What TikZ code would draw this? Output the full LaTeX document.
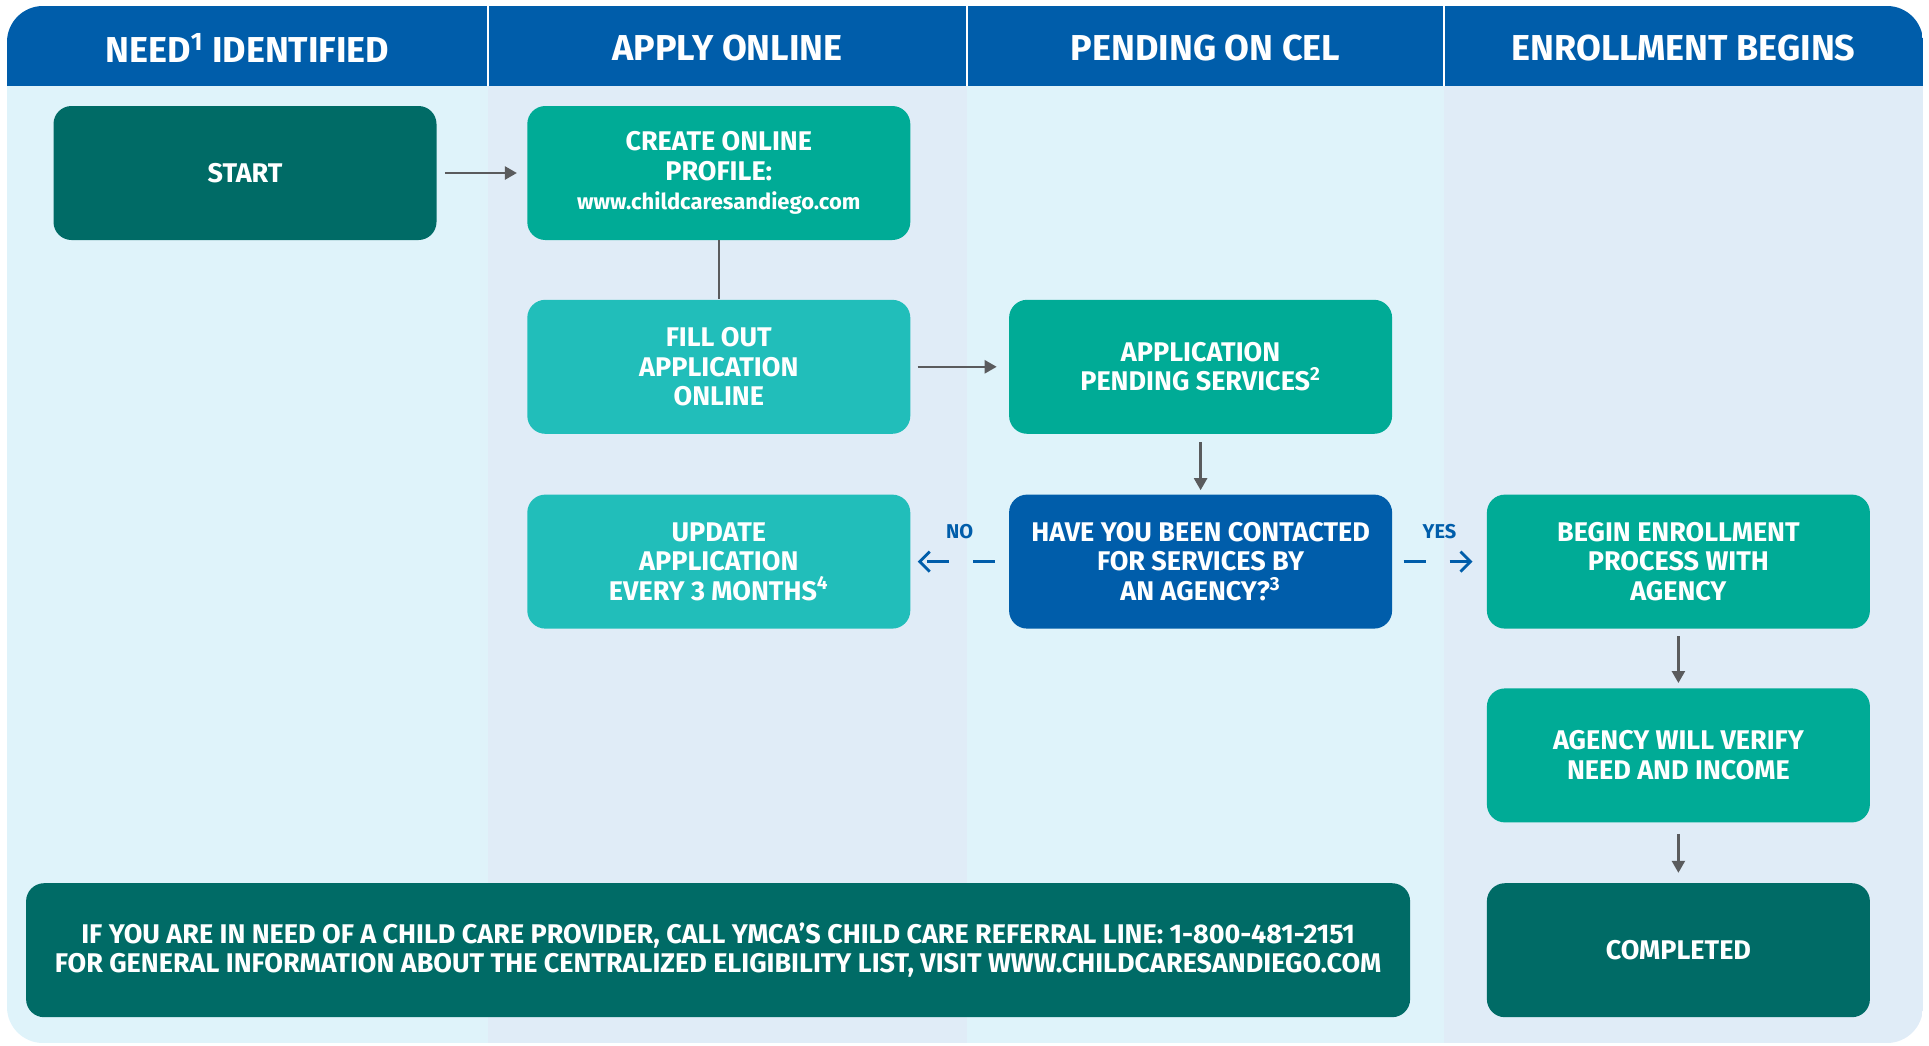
\documentclass[tikz,border=0pt]{standalone}
\usepackage{fontspec}
\setmainfont{Fira Sans}
\usetikzlibrary{arrows.meta,positioning}

\definecolor{hdrblue}{HTML}{005DAA}
\definecolor{dkteal}{HTML}{006B66}
\definecolor{midteal}{HTML}{00AB96}
\definecolor{ltteal}{HTML}{21BEBA}
\definecolor{bgcyan}{HTML}{DFF3FA}
\definecolor{bgblue}{HTML}{E0ECF7}
\definecolor{arrgray}{HTML}{5A5B5D}

\begin{document}
\begin{tikzpicture}[x=0.5pt, y=-0.5pt,
  unit/.style={rectangle, rounded corners=9pt, minimum height=67pt, minimum width=191.5pt, inner sep=0pt, align=center, text=white, font=\bfseries\fontsize{13.5}{14.8}\selectfont},
  head/.style={text=white, font=\bfseries\fontsize{18}{20}\selectfont},
  answer/.style={text=hdrblue, font=\bfseries\fontsize{10}{12}\selectfont},
  flow/.style={draw=arrgray, line width=1.2pt, -{Triangle[length=6pt, width=6.5pt]}},
  link/.style={draw=arrgray, line width=1.2pt},
  choice/.style={draw=hdrblue, line width=1.4pt, dash pattern=on 11pt off 12pt, -{Straight Barb[length=5pt, width=10pt]}}]

%Background
\useasboundingbox (0,0) rectangle (1929,1045);
\begin{scope}
  \clip[rounded corners=18pt] (7,6) rectangle (1923,1043);
  \fill[bgcyan] (7,6) rectangle (488,1043);
  \fill[bgblue] (488,6) rectangle (967,1043);
  \fill[bgcyan] (967,6) rectangle (1444,1043);
  \fill[bgblue] (1444,6) rectangle (1923,1043);
  \fill[hdrblue] (7,6) rectangle (1923,86);
  \draw[white, line width=1pt] (488,6) -- (488,86) (967,6) -- (967,86) (1444,6) -- (1444,86);
\end{scope}

%Header
\node[head] (need)   at (247.5,48)  {NEED\textsuperscript{1} IDENTIFIED};
\node[head] (online) at (727.5,48)  {APPLY ONLINE};
\node[head] (cel)    at (1205.5,48) {PENDING ON CEL};
\node[head] (begins) at (1683.5,48) {ENROLLMENT BEGINS};

%Nodes
\node[unit, fill=dkteal]  (start)   at (245,173)            {START};
\node[unit, fill=midteal] (profile) [right=45pt of start] {CREATE ONLINE\\PROFILE:\\{\fontsize{11}{14.8}\selectfont www.childcaresandiego.com}};
\node[unit, fill=ltteal]  (apply)   [below=29.5pt of profile] {FILL OUT\\APPLICATION\\ONLINE};
\node[unit, fill=midteal] (pending) [right=49pt of apply]   {APPLICATION\\PENDING SERVICES\textsuperscript{2}};
\node[unit, fill=hdrblue] (contact) [below=30pt of pending] {HAVE YOU BEEN CONTACTED\\FOR SERVICES BY\\AN AGENCY?\textsuperscript{3}};
\node[unit, fill=ltteal]  (update)  [left=49pt of contact]  {UPDATE\\APPLICATION\\EVERY 3 MONTHS\textsuperscript{4}};
\node[unit, fill=midteal] (enroll)  [right=47pt of contact] {BEGIN ENROLLMENT\\PROCESS WITH\\AGENCY};
\node[unit, fill=midteal] (verify)  [below=29.5pt of enroll] {AGENCY WILL VERIFY\\NEED AND INCOME};
\node[unit, fill=dkteal]  (done)    [below=30pt of verify]  {COMPLETED};
\node[unit, fill=dkteal, minimum width=692pt] (info) [left=38pt of done] {IF YOU ARE IN NEED OF A CHILD CARE PROVIDER, CALL YMCA’S CHILD CARE REFERRAL LINE: 1-800-481-2151\\FOR GENERAL INFORMATION ABOUT THE CENTRALIZED ELIGIBILITY LIST, VISIT WWW.CHILDCARESANDIEGO.COM};
%Lines
\draw[flow, shorten <=4pt, shorten >=5pt] (start) -- (profile);
\draw[link] (profile) -- (apply);
\draw[flow, shorten <=3.5pt, shorten >=6pt] (apply) -- (pending);
\draw[flow, shorten <=4pt, shorten >=2pt] (pending) -- (contact);

\draw[choice, shorten <=7pt, shorten >=3.5pt] (contact) -- node[answer, midway, yshift=15pt] {NO} (update);
\draw[choice, shorten <=5.5pt, shorten >=7pt] (contact) -- node[answer, midway, yshift=15pt] {YES} (enroll);

\draw[flow, shorten <=3.5pt, shorten >=2.5pt] (enroll) -- (verify);
\draw[flow, shorten <=5.5pt, shorten >=5pt] (verify) -- (done);

\end{tikzpicture}
\end{document}
